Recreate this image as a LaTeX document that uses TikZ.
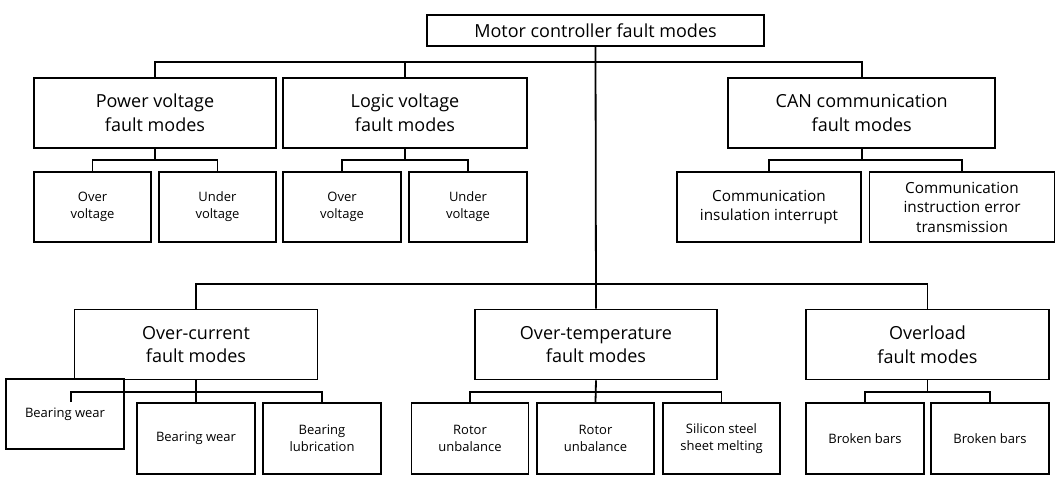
\documentclass[tikz,border=0pt]{standalone}
\usepackage{fontspec}
\setmainfont{Open Sans}
\usepackage{tikz}
\usetikzlibrary{positioning,calc}

\begin{document}
\begin{tikzpicture}[x=1pt, y=-1pt,
    topbox/.style={draw, line width=1.8pt, align=center, inner sep=2pt,
                   font=\fontsize{18}{23.6}\selectfont},
    modebox/.style={topbox, minimum height=70pt},
    leafbox/.style={draw, line width=1.8pt, align=center, inner sep=2pt, minimum height=70pt,
                    font=\fontsize{13}{17}\selectfont},
    canbox/.style={leafbox, font=\fontsize{15.3}{19.5}\selectfont},
    conn/.style={line width=1.8pt}
]
\useasboundingbox (0,0) rectangle (1059,481);

% root
\node[topbox, minimum width=337pt, minimum height=31pt] (root) at (595.5,30.5) {Motor controller fault modes};

% first level
\node[modebox, minimum width=242pt] (pvm)  at (155,113)   {Power voltage\\fault modes};
\node[modebox, minimum width=244pt] (lvm)  at (405,113)   {Logic voltage\\fault modes};
\node[modebox, minimum width=267pt] (canm) at (861.7,113) {CAN communication\\fault modes};

\node[modebox, minimum width=243pt] (ocm) at (196,344.5)   {Over-current\\fault modes};
\node[modebox, minimum width=242pt] (otm) at (596,344.5)   {Over-temperature\\fault modes};
\node[modebox, minimum width=243pt] (olm) at (927.5,344.5) {Overload\\fault modes};

% leaves
\node[leafbox, minimum width=117pt] (pov) at (92.5,207)  {Over\\voltage};
\node[leafbox, minimum width=117pt] (puv) at (217.5,207) {Under\\voltage};
\node[leafbox, minimum width=118pt] (lov) at (342,207)   {Over\\voltage};
\node[leafbox, minimum width=118pt] (luv) at (468,207)   {Under\\voltage};
\node[canbox, minimum width=184pt] (cii) at (769,207) {Communication\\insulation interrupt};
\node[canbox, minimum width=185pt] (cie) at (962,207) {Communication\\instruction error\\transmission};

\node[leafbox, minimum width=118pt] (bw1) at (65,414)      {Bearing wear};
\node[leafbox, minimum width=118pt, minimum height=71pt] (bw2) at (196,438.5) {Bearing wear};
\node[leafbox, minimum width=118pt, minimum height=71pt] (bl)  at (322,438.5) {Bearing\\lubrication};
\node[leafbox, minimum width=117pt, minimum height=71pt] (ru1) at (470,438.5) {Rotor\\unbalance};
\node[leafbox, minimum width=117pt, minimum height=71pt] (ru2) at (595.5,438.5) {Rotor\\unbalance};
\node[leafbox, minimum width=117pt, minimum height=71pt] (ssm) at (721.5,438.5) {Silicon steel\\sheet melting};
\node[leafbox, minimum width=118pt, minimum height=71pt] (bb1) at (865,438.5) {Broken bars};
\node[leafbox, minimum width=118pt, minimum height=71pt] (bb2) at (990,438.5) {Broken bars};

% bus points
\coordinate (tbus)   at (596,62);
\coordinate (lbus)   at (596,284);
\coordinate (pvbus)  at (155,160);
\coordinate (lvbus)  at (405,160);
\coordinate (canbus) at (861.7,160);
\coordinate (ocbus)  at (196,392);
\coordinate (otbus)  at (596,392);
\coordinate (olbus)  at (927.5,392);
\coordinate (bwdrop) at (71,402);

% connectors
\draw[conn] (root.south) -- (otm.north);
\draw[conn] (pvm.north) |- (tbus) -| (canm.north);
\draw[conn] (lvm.north) -- (lvm.north |- tbus);
\draw[conn] (ocm.north) |- (lbus) -| (olm.north);

\draw[conn] (pvm.south) -- (pvbus);
\draw[conn] (pov.north) |- (pvbus) -| (puv.north);
\draw[conn] (lvm.south) -- (lvbus);
\draw[conn] (lov.north) |- (lvbus) -| (luv.north);
\draw[conn] (canm.south) -- (canbus);
\draw[conn] (cii.north) |- (canbus) -| (cie.north);

\draw[conn] (ocm.south) -- (bw2.north);
\draw[conn] (bwdrop) |- (ocbus) -| (bl.north);
\draw[conn] (otm.south) -- (ru2.north);
\draw[conn] (ru1.north) |- (otbus) -| (ssm.north);
\draw[conn] (olm.south) -- (olbus);
\draw[conn] (bb1.north) |- (olbus) -| (bb2.north);
\end{tikzpicture}
\end{document}
